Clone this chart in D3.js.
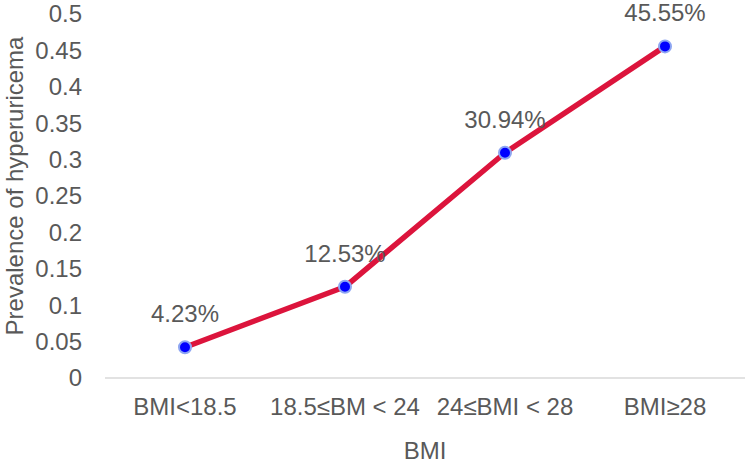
<!DOCTYPE html>
<meta charset="utf-8">
<script src="https://d3js.org/d3.v7.min.js"></script>
<style>
  body { margin: 0; background: #fff; }
  text { font-family: "Liberation Sans", Arial, sans-serif; fill: #595959; }
</style>
<div id="chart"></div>
<script>
  // data
  const categories = ["BMI<18.5", "18.5≤BM < 24", "24≤BMI < 28", "BMI≥28"];
  const prevalence = [0.0423, 0.1253, 0.3094, 0.4555];
  const labels = ["4.23%", "12.53%", "30.94%", "45.55%"];
  const yTicks = [0, 0.05, 0.1, 0.15, 0.2, 0.25, 0.3, 0.35, 0.4, 0.45, 0.5];

  const W = 750, H = 464;
  const margin = { top: 14, right: 5, bottom: 86, left: 105 };
  const width = W - margin.left - margin.right,
    height = H - margin.top - margin.bottom;
  const fs = "24px";

  const svg = d3.select("#chart").append("svg")
    .attr("width", W).attr("height", H);
  const g = svg.append("g")
    .attr("transform", `translate(${margin.left},${margin.top})`);

  const x = d3.scaleBand().domain(categories).range([0, width]);
  const y = d3.scaleLinear().domain([0, 0.5]).range([height, 0]);

  // y tick labels (no axis line)
  g.selectAll(".ytick").data(yTicks).join("text")
    .attr("class", "ytick")
    .attr("x", -23)
    .attr("y", d => y(d))
    .attr("dy", "0.35em")
    .attr("text-anchor", "end")
    .style("font-size", fs)
    .text(d => String(+d.toFixed(2)));

  // x axis line
  g.append("line")
    .attr("x1", 0).attr("x2", width)
    .attr("y1", height).attr("y2", height)
    .attr("stroke", "#d9d9d9").attr("stroke-width", 1.5);

  // x tick labels
  g.selectAll(".xtick").data(categories).join("text")
    .attr("class", "xtick")
    .attr("x", d => x(d) + x.bandwidth() / 2)
    .attr("y", height + 37)
    .attr("text-anchor", "middle")
    .style("font-size", fs)
    .text(d => d);

  // line
  const pts = categories.map((c, i) => [x(c) + x.bandwidth() / 2, y(prevalence[i])]);
  g.append("path")
    .datum(pts)
    .attr("fill", "none")
    .attr("stroke", "#dc143c")
    .attr("stroke-width", 5.5)
    .attr("stroke-linejoin", "round")
    .attr("d", d3.line());

  // markers
  g.selectAll(".dot").data(pts).join("circle")
    .attr("cx", d => d[0]).attr("cy", d => d[1])
    .attr("r", 6)
    .attr("fill", "#0000ff")
    .attr("stroke", "#8ea6f2")
    .attr("stroke-width", 2);

  // data labels
  g.selectAll(".lbl").data(pts).join("text")
    .attr("x", d => d[0])
    .attr("y", d => d[1] - 25)
    .attr("text-anchor", "middle")
    .style("font-size", fs)
    .text((d, i) => labels[i]);

  // axis titles
  svg.append("text")
    .attr("x", margin.left + width / 2)
    .attr("y", 459)
    .attr("text-anchor", "middle")
    .style("font-size", fs)
    .text("BMI");

  svg.append("text")
    .attr("transform", "translate(23,186) rotate(-90)")
    .attr("text-anchor", "middle")
    .style("font-size", fs)
    .text("Prevalence of hyperuricema");
</script>
